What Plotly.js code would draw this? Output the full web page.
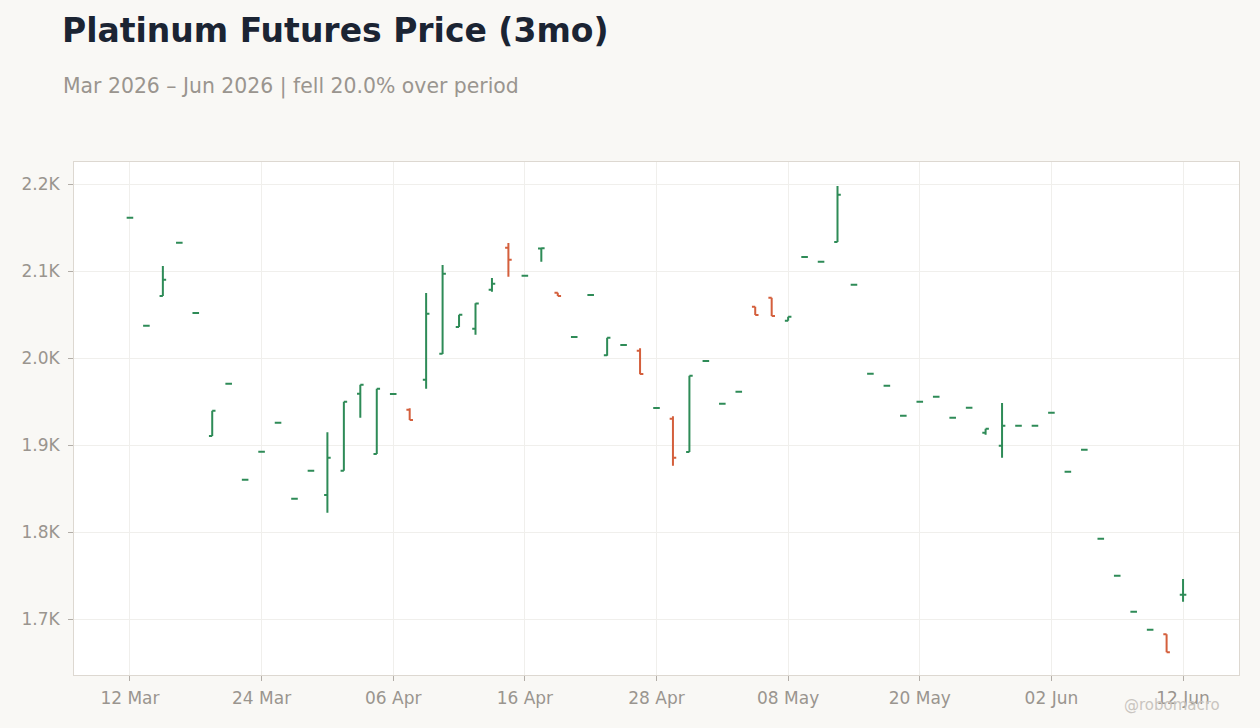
<!DOCTYPE html>
<html>
<head>
<meta charset="utf-8">
<script src="https://cdn.plot.ly/plotly-3.0.1.min.js"></script>
<style>
  html, body { margin: 0; padding: 0; background: #f9f8f5; }
  #chart { width: 1260px; height: 728px; }
</style>
</head>
<body>
<div id="chart"></div>
<script>
// ─── Data ───────────────────────────────────────────────────
var dates = [
  '2026-03-12', '2026-03-13', '2026-03-16', '2026-03-17', '2026-03-18', '2026-03-19', '2026-03-20', '2026-03-23',
  '2026-03-24', '2026-03-25', '2026-03-26', '2026-03-27', '2026-03-30', '2026-03-31', '2026-04-01', '2026-04-02',
  '2026-04-06', '2026-04-07', '2026-04-08', '2026-04-09', '2026-04-10', '2026-04-13', '2026-04-14', '2026-04-15',
  '2026-04-16', '2026-04-17', '2026-04-20', '2026-04-21', '2026-04-22', '2026-04-23', '2026-04-24', '2026-04-27',
  '2026-04-28', '2026-04-29', '2026-04-30', '2026-05-01', '2026-05-04', '2026-05-05', '2026-05-06', '2026-05-07',
  '2026-05-08', '2026-05-11', '2026-05-12', '2026-05-13', '2026-05-14', '2026-05-15', '2026-05-18', '2026-05-19',
  '2026-05-20', '2026-05-21', '2026-05-22', '2026-05-26', '2026-05-27', '2026-05-28', '2026-05-29', '2026-06-01',
  '2026-06-02', '2026-06-03', '2026-06-04', '2026-06-05', '2026-06-08', '2026-06-09', '2026-06-10', '2026-06-11',
  '2026-06-12'
];

var opens = [
  2161.6, 2037.5, 2071.6, 2132.9, 2052.0, 1910.7, 1970.8, 1860.5,
  1892.6, 1926.0, 1838.6, 1870.8, 1842.9, 1870.8, 1959.3, 1890.0,
  1959.0, 1941.0, 1975.4, 2005.3, 2036.0, 2034.0, 2078.9, 2127.1,
  2095.0, 2126.2, 2075.4, 2024.5, 2072.8, 2003.5, 2015.3, 2008.7,
  1943.0, 1930.6, 1892.3, 1996.9, 1947.8, 1961.6, 2059.3, 2069.7,
  2043.2, 2116.4, 2111.0, 2133.7, 2084.6, 1982.3, 1968.5, 1934.0,
  1950.1, 1955.9, 1931.7, 1943.2, 1914.5, 1899.5, 1922.5, 1922.5,
  1937.5, 1869.7, 1895.0, 1792.6, 1750.1, 1708.7, 1688.0, 1682.8,
  1728.3
];

var highs = [
  2161.6, 2037.5, 2106.1, 2132.9, 2052.0, 1939.8, 1970.8, 1860.5,
  1892.6, 1926.0, 1838.6, 1870.8, 1914.9, 1950.1, 1969.7, 1965.1,
  1959.0, 1942.5, 2075.0, 2107.2, 2050.1, 2063.2, 2092.3, 2132.5,
  2095.0, 2126.4, 2075.4, 2024.5, 2072.8, 2023.7, 2015.3, 2011.5,
  1943.0, 1933.5, 1980.0, 1996.9, 1947.8, 1961.6, 2059.3, 2069.7,
  2047.8, 2116.4, 2111.0, 2198.0, 2084.6, 1982.3, 1968.5, 1934.0,
  1950.1, 1955.9, 1931.7, 1943.2, 1919.1, 1948.6, 1922.5, 1922.5,
  1937.5, 1869.7, 1895.0, 1792.6, 1750.1, 1708.7, 1688.0, 1682.8,
  1746.3
];

var lows = [
  2161.6, 2037.5, 2071.6, 2132.9, 2052.0, 1910.7, 1970.8, 1860.5,
  1892.6, 1926.0, 1838.6, 1870.8, 1822.5, 1870.8, 1931.7, 1890.0,
  1959.0, 1929.1, 1965.1, 2005.0, 2036.0, 2027.1, 2076.6, 2093.8,
  2095.0, 2111.0, 2071.6, 2024.5, 2072.8, 2003.0, 2015.3, 1981.6,
  1943.0, 1876.6, 1892.3, 1996.9, 1947.8, 1961.6, 2049.8, 2048.6,
  2043.2, 2116.4, 2111.0, 2133.7, 2084.6, 1982.3, 1968.5, 1934.0,
  1950.1, 1955.9, 1931.7, 1943.2, 1912.2, 1885.7, 1922.5, 1922.5,
  1937.5, 1869.7, 1895.0, 1792.6, 1750.1, 1708.7, 1688.0, 1662.1,
  1720.2
];

var closes = [
  2161.6, 2037.5, 2090.3, 2132.9, 2052.0, 1939.8, 1970.8, 1860.5,
  1892.6, 1926.0, 1838.6, 1870.8, 1885.8, 1950.1, 1969.7, 1965.1,
  1959.0, 1929.1, 2051.3, 2097.2, 2050.1, 2063.0, 2085.7, 2113.3,
  2095.0, 2126.4, 2071.6, 2024.5, 2072.8, 2023.7, 2015.3, 1982.0,
  1943.0, 1885.6, 1980.0, 1996.9, 1947.8, 1961.6, 2049.8, 2048.6,
  2047.8, 2116.4, 2111.0, 2188.0, 2084.6, 1982.3, 1968.5, 1934.0,
  1950.1, 1955.9, 1931.7, 1943.2, 1919.1, 1922.5, 1922.5, 1922.5,
  1937.5, 1869.7, 1895.0, 1792.6, 1750.1, 1708.7, 1688.0, 1662.1,
  1728.3
];

var xTickDates = ['2026-03-12', '2026-03-24', '2026-04-06', '2026-04-16', '2026-04-28',
                  '2026-05-08', '2026-05-20', '2026-06-02', '2026-06-12'];
var xTickLabels = ['12 Mar', '24 Mar', '06 Apr', '16 Apr', '28 Apr', '08 May', '20 May', '02 Jun', '12 Jun'];
var yTickVals = [1700, 1800, 1900, 2000, 2100, 2200];
var yTickLabels = ['1.7K', '1.8K', '1.9K', '2.0K', '2.1K', '2.2K'];

// ─── Style ──────────────────────────────────────────────────
var UP = '#2e8b57';
var DOWN = '#d45f3c';
var MUTED = '#9a958f';
var FONT = 'DejaVu Sans, Verdana, sans-serif';

// flat days (open == close) are drawn green, so split by direction
// into two traces rather than rely on plotly's prev-close rule
function pick(arr, keep) {
  return arr.map(function (v, i) { return keep(i) ? v : null; });
}

function ohlcTrace(keep, color) {
  return {
    type: 'ohlc',
    x: dates,
    open: pick(opens, keep),
    high: pick(highs, keep),
    low: pick(lows, keep),
    close: pick(closes, keep),
    tickwidth: 0.2,
    increasing: { line: { color: color, width: 2 } },
    decreasing: { line: { color: color, width: 2 } },
    showlegend: false,
  };
}

var traces = [
  ohlcTrace(function (i) { return closes[i] >= opens[i]; }, UP),
  ohlcTrace(function (i) { return closes[i] < opens[i]; }, DOWN),
];

var axisCommon = {
  showgrid: true,
  gridcolor: '#f0efec',
  zeroline: false,
  showline: true,
  mirror: true,
  linecolor: '#ddd8d1',
  linewidth: 1,
  ticks: 'outside',
  ticklen: 5,
  tickcolor: '#b3aea8',
  tickfont: { family: FONT, size: 17, color: MUTED },
  fixedrange: true,
};

var layout = {
  width: 1260,
  height: 728,
  paper_bgcolor: '#f9f8f5',
  plot_bgcolor: '#ffffff',
  margin: { l: 74, r: 21, t: 162, b: 53 },
  font: { family: FONT, color: MUTED },
  title: {
    text: '<b>Platinum Futures Price (3mo)</b>',
    font: { family: FONT, size: 33, color: '#1b2433' },
    xref: 'container', x: 62 / 1260, xanchor: 'left',
    yref: 'container', y: 1 - 30.5 / 728, yanchor: 'middle',
  },
  xaxis: Object.assign({}, axisCommon, {
    type: 'category',
    range: [-3.4, 67.4],
    tickmode: 'array',
    tickvals: xTickDates,
    ticktext: xTickLabels,
    ticklabelstandoff: 3,
    rangeslider: { visible: false },
  }),
  yaxis: Object.assign({}, axisCommon, {
    range: [1636, 2225.6],
    tickmode: 'array',
    tickvals: yTickVals,
    ticktext: yTickLabels,
    ticklabelstandoff: 5,
  }),
  annotations: [
    {
      text: 'Mar 2026 \u2013 Jun 2026 | fell 20.0% over period',
      xref: 'paper', x: -13 / 1165, xanchor: 'left',
      yref: 'paper', y: (675 - 86) / 513, yanchor: 'middle',
      showarrow: false,
      font: { family: FONT, size: 20.4, color: MUTED },
    },
    {
      text: '@robomacro',
      xref: 'paper', x: (1222 - 74) / 1165, xanchor: 'right',
      yref: 'paper', y: (675 - 705) / 513, yanchor: 'middle',
      showarrow: false,
      font: { family: FONT, size: 15, color: '#c9c5c0' },
    },
  ],
  hovermode: false,
};

Plotly.newPlot('chart', traces, layout, { displayModeBar: false, staticPlot: true });
</script>
</body>
</html>
